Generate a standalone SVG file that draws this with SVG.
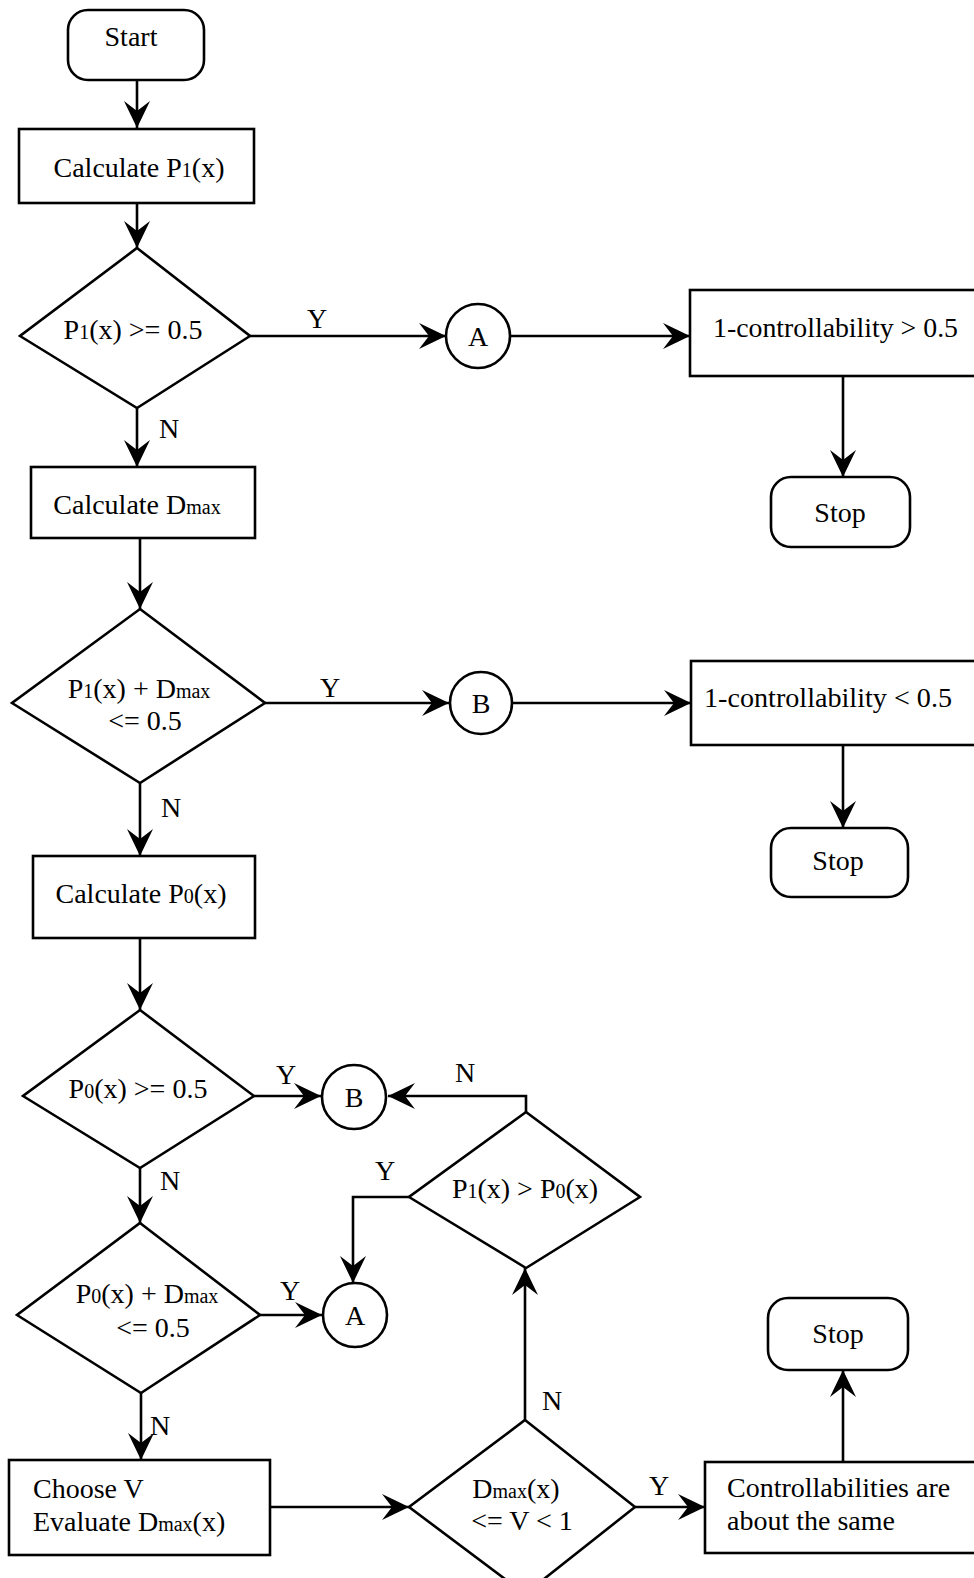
<svg xmlns="http://www.w3.org/2000/svg" width="974" height="1578" viewBox="0 0 974 1578">
<style>
.shape{fill:#fff;stroke:#000;stroke-width:2.6}
.conn{fill:none;stroke:#000;stroke-width:2.6;marker-end:url(#ah)}
text{font-family:"Liberation Serif","Times New Roman",serif;font-size:28px;fill:#000}
.c{text-anchor:middle}
.s{font-size:20px}
</style>
<defs>
<marker id="ah" markerUnits="userSpaceOnUse" viewBox="-28 -14 30 28" refX="0" refY="0" markerWidth="30" markerHeight="28" orient="auto">
<path d="M0,0 L-27,-13 L-17,0 L-27,13 Z" fill="#000"/>
</marker>
</defs>

<g id="connectors">
<line class="conn" x1="137" y1="80" x2="137" y2="128"/>
<line class="conn" x1="137" y1="203" x2="137" y2="248"/>
<line class="conn" x1="250" y1="336" x2="446" y2="336"/>
<line class="conn" x1="510" y1="336" x2="690" y2="336"/>
<line class="conn" x1="843" y1="376" x2="843" y2="477"/>
<line class="conn" x1="137" y1="408" x2="137" y2="467"/>
<line class="conn" x1="140" y1="538" x2="140" y2="609"/>
<line class="conn" x1="265" y1="703" x2="449" y2="703"/>
<line class="conn" x1="512" y1="703" x2="691" y2="703"/>
<line class="conn" x1="843" y1="745" x2="843" y2="828"/>
<line class="conn" x1="140" y1="783" x2="140" y2="856"/>
<line class="conn" x1="140" y1="938" x2="140" y2="1010"/>
<line class="conn" x1="254" y1="1096" x2="321" y2="1096"/>
<polyline class="conn" points="526,1112 526,1096 388,1096"/>
<line class="conn" x1="140" y1="1168" x2="140" y2="1223"/>
<polyline class="conn" points="409,1197 353,1197 353,1283"/>
<line class="conn" x1="260" y1="1315" x2="322" y2="1315"/>
<line class="conn" x1="141" y1="1393" x2="141" y2="1460"/>
<line class="conn" x1="270" y1="1507" x2="409" y2="1507"/>
<line class="conn" x1="525" y1="1420" x2="525" y2="1268"/>
<line class="conn" x1="635" y1="1507" x2="705" y2="1507"/>
<line class="conn" x1="843" y1="1462" x2="843" y2="1370"/>
<text class="c" x="317" y="328">Y</text>
<text class="c" x="169" y="438">N</text>
<text class="c" x="330" y="697">Y</text>
<text class="c" x="171" y="817">N</text>
<text class="c" x="286" y="1084">Y</text>
<text class="c" x="465" y="1082">N</text>
<text class="c" x="170" y="1190">N</text>
<text class="c" x="385" y="1180">Y</text>
<text class="c" x="290" y="1300">Y</text>
<text class="c" x="160" y="1435">N</text>
<text class="c" x="552" y="1410">N</text>
<text class="c" x="659" y="1495">Y</text>
</g>

<g id="start">
<rect class="shape" x="68" y="10" width="136" height="70" rx="20"/>
<text class="c" x="131" y="46">Start</text>
</g>
<g id="calc-p1">
<rect class="shape" x="19" y="129" width="235" height="74"/>
<text class="c" x="139" y="177">Calculate P<tspan class="s">1</tspan>(x)</text>
</g>
<g id="dec-p1">
<polygon class="shape" points="137,248 250,336 137,408 20,336"/>
<text class="c" x="133" y="339">P<tspan class="s">1</tspan>(x) &gt;= 0.5</text>
</g>
<g id="conn-a1">
<circle class="shape" cx="478" cy="336" r="32"/>
<text class="c" x="478" y="346">A</text>
</g>
<g id="ctrl-gt">
<rect class="shape" x="690" y="290" width="300" height="86"/>
<text x="713" y="337" textLength="245" lengthAdjust="spacingAndGlyphs">1-controllability &gt; 0.5</text>
</g>
<g id="stop1">
<rect class="shape" x="771" y="477" width="139" height="70" rx="20"/>
<text class="c" x="840" y="522">Stop</text>
</g>
<g id="calc-dmax">
<rect class="shape" x="31" y="467" width="224" height="71"/>
<text class="c" x="137" y="514">Calculate D<tspan class="s">max</tspan></text>
</g>
<g id="dec-p1dmax">
<polygon class="shape" points="140,609 265,703 140,783 12,703"/>
<text class="c" x="139" y="698">P<tspan class="s">1</tspan>(x) + D<tspan class="s">max</tspan></text>
<text class="c" x="145" y="730">&lt;= 0.5</text>
</g>
<g id="conn-b1">
<circle class="shape" cx="481" cy="703" r="31"/>
<text class="c" x="481" y="713">B</text>
</g>
<g id="ctrl-lt">
<rect class="shape" x="691" y="661" width="300" height="84"/>
<text x="704" y="707" textLength="248" lengthAdjust="spacingAndGlyphs">1-controllability &lt; 0.5</text>
</g>
<g id="stop2">
<rect class="shape" x="771" y="828" width="137" height="69" rx="20"/>
<text class="c" x="838" y="870">Stop</text>
</g>
<g id="calc-p0">
<rect class="shape" x="33" y="856" width="222" height="82"/>
<text class="c" x="141" y="903">Calculate P<tspan class="s">0</tspan>(x)</text>
</g>
<g id="dec-p0">
<polygon class="shape" points="140,1010 254,1096 140,1168 23,1096"/>
<text class="c" x="138" y="1098">P<tspan class="s">0</tspan>(x) &gt;= 0.5</text>
</g>
<g id="conn-b2">
<circle class="shape" cx="354" cy="1097" r="32"/>
<text class="c" x="354" y="1107">B</text>
</g>
<g id="dec-p1p0">
<polygon class="shape" points="526,1112 640,1197 526,1268 409,1197"/>
<text class="c" x="525" y="1198">P<tspan class="s">1</tspan>(x) &gt; P<tspan class="s">0</tspan>(x)</text>
</g>
<g id="conn-a2">
<circle class="shape" cx="355" cy="1315" r="32"/>
<text class="c" x="355" y="1325">A</text>
</g>
<g id="dec-p0dmax">
<polygon class="shape" points="140,1223 260,1315 141,1393 17,1315"/>
<text class="c" x="147" y="1303">P<tspan class="s">0</tspan>(x) + D<tspan class="s">max</tspan></text>
<text class="c" x="153" y="1337">&lt;= 0.5</text>
</g>
<g id="choose-v">
<rect class="shape" x="9" y="1460" width="261" height="95"/>
<text x="33" y="1498">Choose V</text>
<text x="33" y="1531">Evaluate D<tspan class="s">max</tspan>(x)</text>
</g>
<g id="dec-v">
<polygon class="shape" points="525,1420 635,1507 525,1594 409,1507"/>
<text class="c" x="516" y="1498">D<tspan class="s">max</tspan>(x)</text>
<text class="c" x="522" y="1530">&lt;= V &lt; 1</text>
</g>
<g id="same">
<rect class="shape" x="705" y="1462" width="290" height="91"/>
<text x="727" y="1497">Controllabilities are</text>
<text x="727" y="1530">about the same</text>
</g>
<g id="stop3">
<rect class="shape" x="768" y="1298" width="140" height="72" rx="20"/>
<text class="c" x="838" y="1343">Stop</text>
</g>
</svg>
